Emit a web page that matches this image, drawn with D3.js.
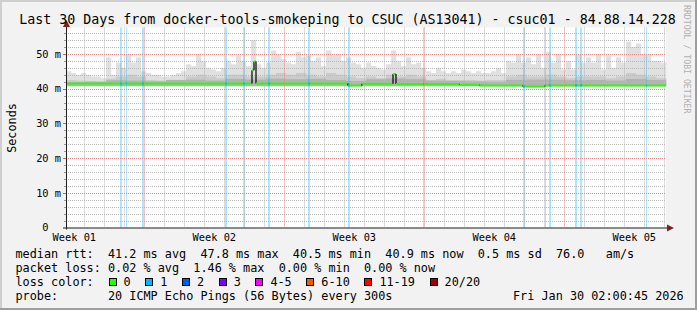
<!DOCTYPE html>
<html>
<head>
<meta charset="utf-8">
<script src="https://cdn.jsdelivr.net/npm/d3@7/dist/d3.min.js"></script>
<style>
  html, body { margin: 0; padding: 0; background: #f2f2f2; }
  svg text { font-family: "DejaVu Sans Mono", monospace; white-space: pre; }
</style>
</head>
<body>
<svg id="chart" width="697" height="310"></svg>
<script>

// ------------------------------------------------------
// DATA
// ------------------------------------------------------
var titleText = "Last 30 Days from docker-tools-smokeping to CSUC (AS13041) - csuc01 - 84.88.14.228";
var yTicks = [0, 10, 20, 30, 40, 50];
var yTickLabels = ["0  ", "10 m", "20 m", "30 m", "40 m", "50 m"];
var weekLabels = ["Week 01", "Week 02", "Week 03", "Week 04", "Week 05"];

// smoke, upper edge in ms (120 slots over 30 days)
var smokeTop = [45,44.5, 44,44.5, 44,43.5, 43.5,43, 49,44, 47.5,46, 50,47.5, 49,45, 44.5,44, 44,43.5,
                43.5,44, 44.5,45, 47,46.5, 50,48, 46,45.5, 45,46, 48,47, 49.5,48, 46.5,54, 47,46,
                47.5,51, 50,48.5, 47.5,47, 50.5,49, 49.5,48, 49,46.5, 51,49.5, 50,48, 49,47.5, 47,46,
                47.5,46.5, 46,45.5, 47,51, 48,46.5, 49,47, 47.5,46, 45,44.5, 46,45, 44.5,45, 44.5,45.5,
                45,44.5, 45,44.5, 44.5,45, 46,44.5, 48,47.5, 50,47.5, 49,47, 50,46, 50.5,47.5, 50,45.5,
                48,45.5, 50,47.5, 49,47.5, 50,45.5, 49.5,46, 49,47.5, 53.5,52, 53,50, 50,48, 48,47.5];
// darker smoke (60 slots)
var smokeMid = [42.5,42.3,42.2,42,42.8,43.5,44,43.5,42.5,42.3,
                42.2,42.5,43.5,44,43.5,43,44,44,43.5,43.5,
                44,44.5,44,44.5,44,43.5,44.5,44,43.5,43,
                43.5,43,44,43.5,44,43.5,42.5,42.8,42.5,42.5,
                42.5,42.3,42.5,42.5,43.5,44,43.5,43.5,44,43.5,
                43,43.5,43.5,43.5,43,43.5,44.5,44,43.5,43];
// darkest smoke near the median (30 slots)
var smokeCore = [41.9,42,42.4,42.3,42.1, 42.5,42.6,42.3,42.8,42.6,
                 42.9,42.7,42.8,42.5,42.2, 42.7,42.9,42.7,42.3,42.2,
                 42.1,42.0,42.5,42.6,42.6, 42.4,42.5,42.3,42.8,42.5];
var smokeFloor = 40.7;

// median rtt: [day from start, ms]
var medianPts = [[0, 41.5], [9.3, 45.3], [9.4, 47.8], [9.5, 41.5], [14.1, 40.9], [14.8, 41.4],
                 [16.35, 44.2], [16.5, 41.3], [19.7, 41.1], [20.7, 40.9], [22.85, 40.6],
                 [23.95, 40.9], [30, 40.9]];

// loss events (1/20): [day from start, duration hours]
var lossEvents = [[2.7,2.4],[3.0,1.2],[3.8,2.4],[7.95,2.4],[8.85,2.4],[10.1,2.4],[12.1,2.4],
                  [14.1,2.4],[17.85,1.2],[22.85,2.4],[23.95,1.2],[24.15,2.4],[25.45,2.4],
                  [25.7,2.4],[29.0,1.2]];

var lossLegend = ["0", "1", "2", "3", "4-5", "6-10", "11-19", "20/20"];
var lossColors = ["#26ff00", "#00b8ff", "#0059ff", "#7e00ff", "#ff00ff", "#ff5500", "#ff0000", "#a10000"];

var rttValues = ["41.2", "47.8", "40.5", "40.9"];
var lossValues = ["0.02", "1.46", "0.00", "0.00"];
var statNames = ["avg", "max", "min", "now"];
var rttSd = "0.5";
var rttAms = "76.0";
var probeText = "20 ICMP Echo Pings (56 Bytes) every 300s";
var stampText = "Fri Jan 30 02:00:45 2026";

var tStart = new Date(Date.UTC(2025, 11, 31, 2, 0, 45));
var tEnd = new Date(Date.UTC(2026, 0, 30, 2, 0, 45));

// ------------------------------------------------------
// helpers
// ------------------------------------------------------
function dayToDate(d) { return new Date(tStart.getTime() + d * 864e5); }

var svg = d3.select("#chart");
var W = 697, H = 310;
var pLeft = 66, pRight = 666, pTop = 27.5, pBottom = 227.5;

var x = d3.scaleTime().domain([tStart, tEnd]).range([pLeft, pRight]);
var y = d3.scaleLinear().domain([0, 57.6]).range([pBottom, pTop]);

// ------------------------------------------------------
// background + 3d frame
// ------------------------------------------------------
svg.append("rect").attr("width", W).attr("height", H).attr("fill", "#f2f2f2");
svg.append("path").attr("d", "M0,0H697V2H2V310H0Z").attr("fill", "#cfcfcf");
svg.append("path").attr("d", "M697,0V310H0V308H695V0Z").attr("fill", "#9e9e9e");
svg.append("rect").attr("x", pLeft).attr("y", pTop).attr("width", pRight - pLeft).attr("height", pBottom - pTop).attr("fill", "#fff");

// ------------------------------------------------------
// smoke
// ------------------------------------------------------
function drawSmoke(values, colour) {
    var n = values.length;
    svg.append("g").selectAll("rect")
        .data(values)
        .enter().append("rect")
        .attr("x", function(d, i) { return x(dayToDate(i * 30 / n)); })
        .attr("width", function(d, i) { return x(dayToDate((i + 1) * 30 / n)) - x(dayToDate(i * 30 / n)) + 0.2; })
        .attr("y", function(d) { return y(d); })
        .attr("height", function(d) { return y(smokeFloor) - y(d); })
        .attr("fill", colour);
}
drawSmoke(smokeTop, "#e0e0e0");
drawSmoke(smokeMid, "#cbcbcb");
drawSmoke(smokeCore, "#b2b2b2");

// ------------------------------------------------------
// loss bars
// ------------------------------------------------------
svg.append("g").selectAll("rect")
    .data(lossEvents)
    .enter().append("rect")
    .attr("x", function(d) { return x(dayToDate(d[0])); })
    .attr("width", function(d) { return x(dayToDate(d[0] + d[1] / 24)) - x(dayToDate(d[0])); })
    .attr("y", pTop)
    .attr("height", pBottom - pTop)
    .attr("fill", lossColors[1])
    .attr("opacity", 0.33);

// ------------------------------------------------------
// grid
// ------------------------------------------------------
var gGrid = svg.append("g");
var dayLines = d3.utcDay.range(tStart, tEnd);
var weekLines = d3.utcSunday.range(tStart, tEnd);
var minorDays = dayLines.filter(function(d) { return d.getUTCDay() !== 0; });

gGrid.selectAll(".vmin").data(minorDays).enter().append("line")
    .attr("x1", function(d) { return Math.round(x(d)) + 0.5; })
    .attr("x2", function(d) { return Math.round(x(d)) + 0.5; })
    .attr("y1", pTop).attr("y2", pBottom)
    .attr("stroke", "#b8b8b8").attr("stroke-dasharray", "1,1");

var minorY = d3.range(2, 57.6, 2).filter(function(v) { return v % 10 !== 0; });
gGrid.selectAll(".hmin").data(minorY).enter().append("line")
    .attr("x1", pLeft).attr("x2", pRight)
    .attr("y1", function(d) { return Math.round(y(d)) + 0.5; })
    .attr("y2", function(d) { return Math.round(y(d)) + 0.5; })
    .attr("stroke", "#b8b8b8").attr("stroke-dasharray", "1,1");

gGrid.selectAll(".vmaj").data(weekLines).enter().append("line")
    .attr("x1", function(d) { return Math.round(x(d)) + 0.5; })
    .attr("x2", function(d) { return Math.round(x(d)) + 0.5; })
    .attr("y1", pTop).attr("y2", pBottom)
    .attr("stroke", "#e88a8a").attr("stroke-dasharray", "1,1");

gGrid.selectAll(".hmaj").data(yTicks.slice(1)).enter().append("line")
    .attr("x1", pLeft).attr("x2", pRight)
    .attr("y1", function(d) { return Math.round(y(d)) + 0.5; })
    .attr("y2", function(d) { return Math.round(y(d)) + 0.5; })
    .attr("stroke", "#e88a8a").attr("stroke-dasharray", "1,1");

// ticks on the y axis
gGrid.selectAll(".tmin").data(minorY).enter().append("line")
    .attr("x1", pLeft - 2).attr("x2", pLeft)
    .attr("y1", function(d) { return Math.round(y(d)) + 0.5; })
    .attr("y2", function(d) { return Math.round(y(d)) + 0.5; })
    .attr("stroke", "#999");
gGrid.selectAll(".tmaj").data(yTicks.slice(1)).enter().append("line")
    .attr("x1", pLeft - 3).attr("x2", pLeft)
    .attr("y1", function(d) { return Math.round(y(d)) + 0.5; })
    .attr("y2", function(d) { return Math.round(y(d)) + 0.5; })
    .attr("stroke", "#d06060");

// ------------------------------------------------------
// median line (black risers, green steps, blue where loss)
// ------------------------------------------------------
var gMed = svg.append("g");
for (var i = 0; i < medianPts.length - 1; i++) {
    var xa = x(dayToDate(medianPts[i][0])), xb = x(dayToDate(medianPts[i + 1][0]));
    if (i > 0) {
        gMed.append("line")
            .attr("x1", xa).attr("x2", xa)
            .attr("y1", y(medianPts[i - 1][1])).attr("y2", y(medianPts[i][1]))
            .attr("stroke", "#000").attr("stroke-width", 1.2);
    }
    gMed.append("line")
        .attr("x1", xa).attr("x2", xb)
        .attr("y1", y(medianPts[i][1])).attr("y2", y(medianPts[i][1]))
        .attr("stroke", lossColors[0]).attr("stroke-width", 2);
}

function medianAt(d) {
    var v = medianPts[0][1];
    medianPts.forEach(function(p) { if (p[0] <= d) v = p[1]; });
    return v;
}
gMed.selectAll(".lossmark").data(lossEvents).enter().append("line")
    .attr("x1", function(d) { return x(dayToDate(d[0])); })
    .attr("x2", function(d) { return x(dayToDate(d[0] + d[1] / 24)); })
    .attr("y1", function(d) { return y(medianAt(d[0])); })
    .attr("y2", function(d) { return y(medianAt(d[0])); })
    .attr("stroke", lossColors[1]).attr("stroke-width", 2);

// ------------------------------------------------------
// axes + arrows
// ------------------------------------------------------
svg.append("line").attr("x1", pLeft + 0.5).attr("x2", pLeft + 0.5).attr("y1", pBottom + 2).attr("y2", pTop - 2)
    .attr("stroke", "#1f1f1f");
svg.append("line").attr("x1", pLeft - 3).attr("x2", pRight + 2).attr("y1", pBottom + 0.5).attr("y2", pBottom + 0.5)
    .attr("stroke", "#1f1f1f");
svg.append("path").attr("d", "M" + (pLeft - 3) + "," + (pTop - 0.5) + "L" + (pLeft + 0.5) + "," + (pTop - 7.5) + "L" + (pLeft + 4) + "," + (pTop - 0.5) + "Z")
    .attr("fill", "#801f1f");
svg.append("path").attr("d", "M" + (pRight + 1) + "," + (pBottom - 3) + "L" + (pRight + 8) + "," + (pBottom + 0.5) + "L" + (pRight + 1) + "," + (pBottom + 4) + "Z")
    .attr("fill", "#801f1f");

// y labels
svg.append("g").selectAll("text")
    .data(yTicks)
    .enter().append("text")
    .attr("x", 61)
    .attr("y", function(d) { return y(d) + 3.8; })
    .attr("text-anchor", "end")
    .attr("font-size", "10.34px")
    .attr("fill", "#000")
    .text(function(d, i) { return yTickLabels[i]; });

// week labels, in the middle of each week
var weekStarts = d3.utcSunday.range(d3.utcSunday.floor(tStart), tEnd);
svg.append("g").selectAll("text")
    .data(weekStarts)
    .enter().append("text")
    .attr("x", function(d) { return x(new Date(d.getTime() + 3.5 * 864e5)); })
    .attr("y", 241)
    .attr("text-anchor", "middle")
    .attr("font-size", "10.34px")
    .attr("fill", "#000")
    .text(function(d, i) { return weekLabels[i]; });

// ------------------------------------------------------
// title, unit, watermark
// ------------------------------------------------------
svg.append("text").attr("x", 347.5).attr("y", 24).attr("text-anchor", "middle")
    .attr("font-size", "13.3px").attr("fill", "#000").text(titleText);

svg.append("text").attr("transform", "translate(15.5,128) rotate(-90)")
    .attr("text-anchor", "middle").attr("font-size", "11.8px").attr("fill", "#000").text("Seconds");

svg.append("text").attr("transform", "translate(684,5) rotate(90)")
    .attr("font-size", "8.2px").attr("fill", "#b0b0b0").text("RRDTOOL / TOBI OETIKER");

// ------------------------------------------------------
// legend
// ------------------------------------------------------
var lx = 15.5, lfs = "11.82px";
var rttLine = "median rtt:  ";
rttValues.forEach(function(v, i) { rttLine += v + " ms " + statNames[i] + "  "; });
rttLine += rttSd + " ms sd  " + rttAms + "   am/s";
var lossLine = "packet loss: ";
lossValues.forEach(function(v, i) { lossLine += v + " % " + statNames[i] + "  "; });

[rttLine, lossLine, "loss color:", "probe:       " + probeText].forEach(function(s, i) {
    svg.append("text").attr("x", lx).attr("y", 257.5 + i * 14)
        .attr("font-size", lfs).attr("fill", "#000").text(s);
});
svg.append("text").attr("x", 513).attr("y", 257.5 + 3 * 14)
    .attr("font-size", lfs).attr("fill", "#000").text(stampText);

var bx = 108.5;
lossLegend.forEach(function(lbl, i) {
    svg.append("rect").attr("x", Math.round(bx) + 0.5).attr("y", 278.5).attr("width", 7).attr("height", 7)
        .attr("fill", lossColors[i]).attr("stroke", "#000");
    var t = svg.append("text").attr("x", bx + 15).attr("y", 285.5)
        .attr("font-size", lfs).attr("fill", "#000").text(lbl);
    bx += 15 + t.node().getComputedTextLength() + 14.6;
});

</script>
</body>
</html>
